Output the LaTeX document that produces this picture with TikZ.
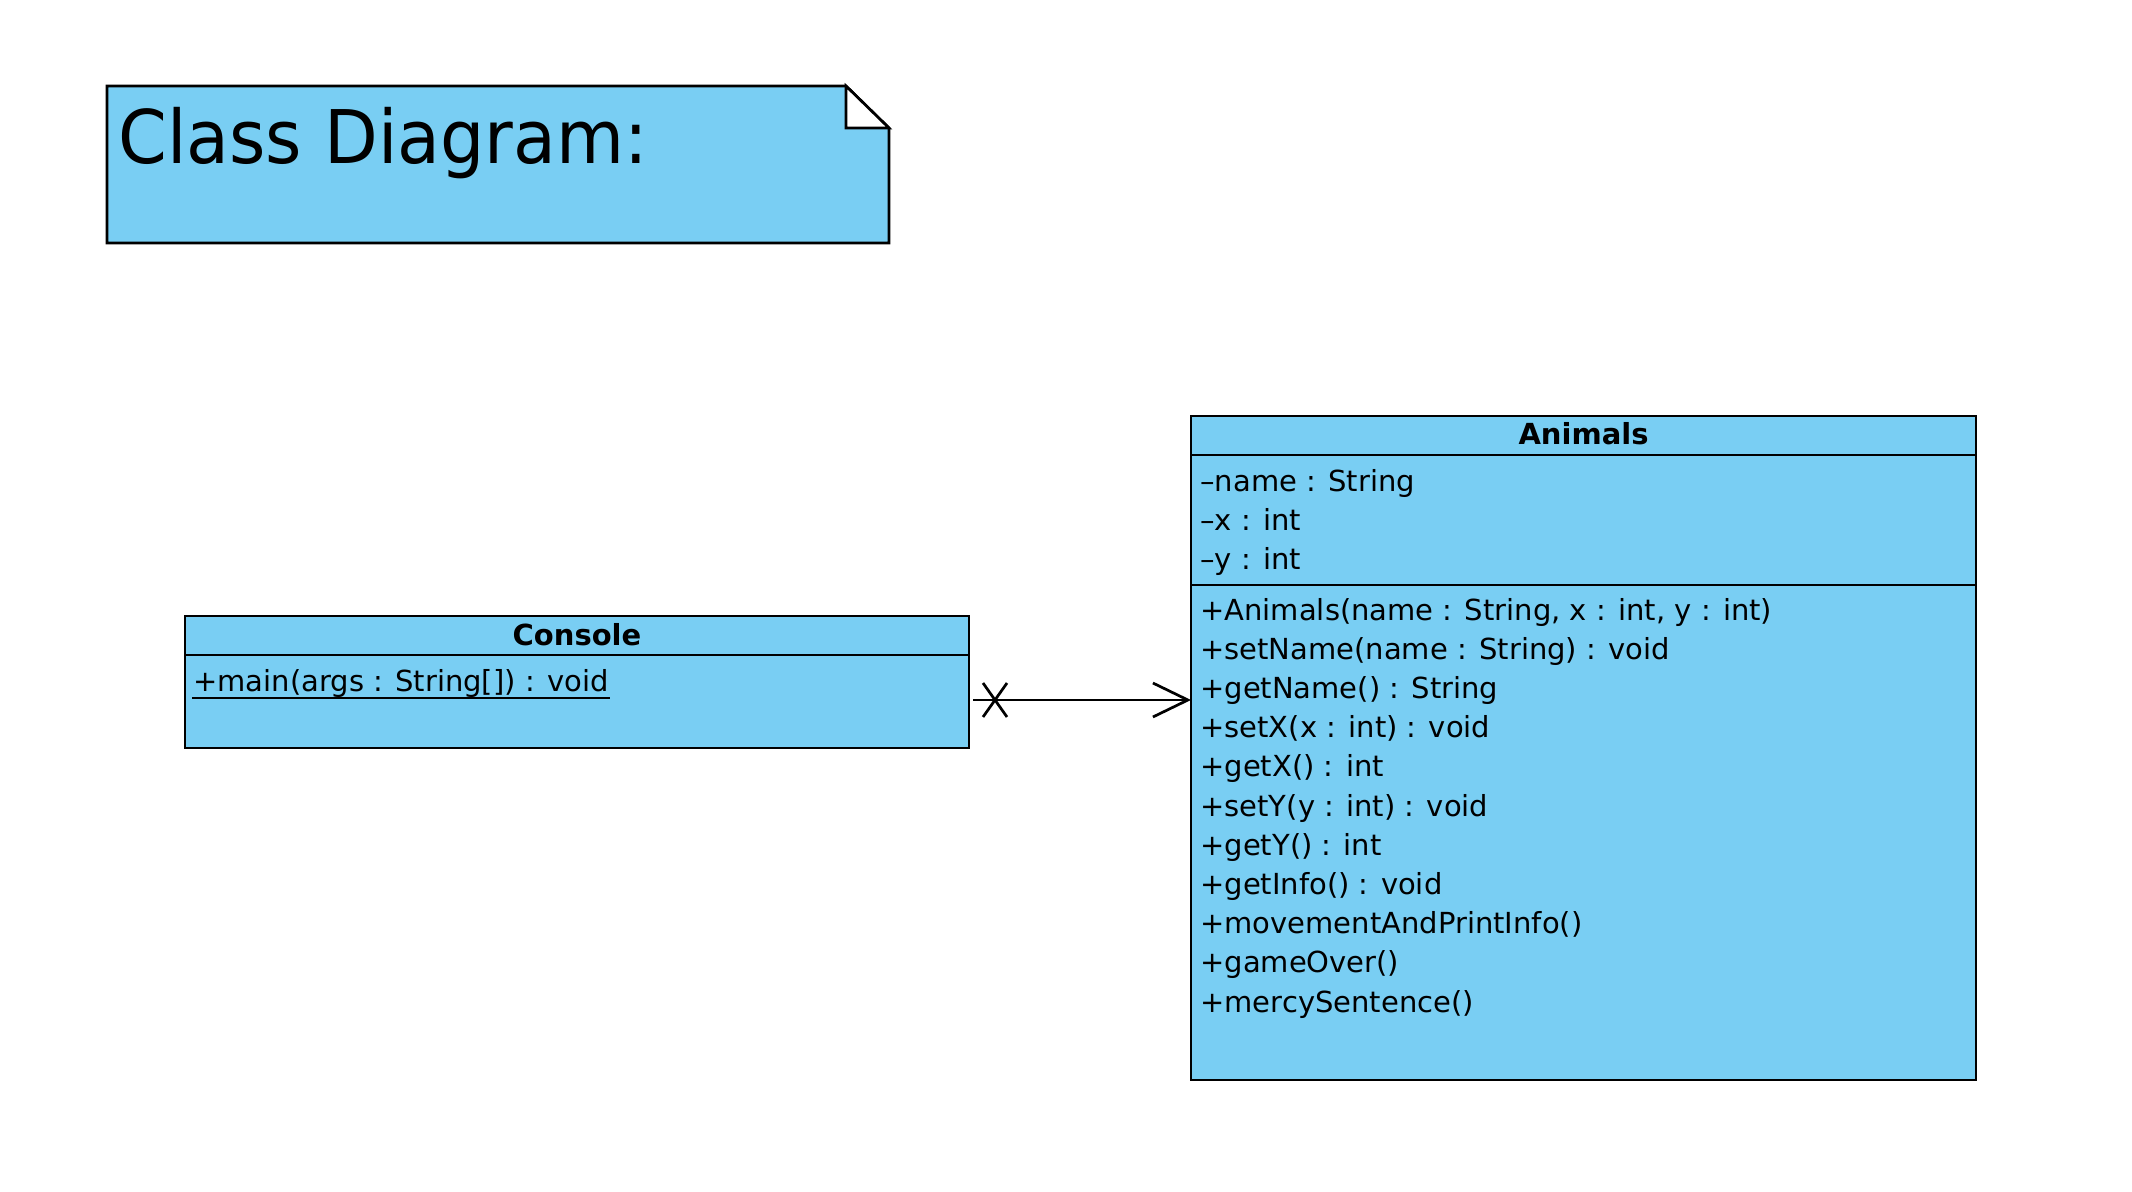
\documentclass[tikz,border=0pt]{standalone}
\usepackage{fontspec}
\setmainfont{DejaVu Sans}
\newfontfamily\titlefont{DejaVu Sans}[FakeStretch=0.944]
\usetikzlibrary{arrows.meta,calc}
\definecolor{umlblue}{HTML}{79CEF3}
\begin{document}
\begin{tikzpicture}[x=0.5pt,y=-0.5pt, line width=1.35pt,
  classbox/.style={draw=black, fill=umlblue, inner sep=0pt, outer sep=0pt},
  member/.style={anchor=base west, inner sep=0pt, font=\fontsize{14.5pt}{17pt}\selectfont},
  cname/.style={anchor=base, inner sep=0pt, font=\fontsize{14.5pt}{17pt}\selectfont\bfseries},
  assoc/.style={-{Straight Barb[length=17.5pt,width=17pt]}}]
\useasboundingbox (0,0) rectangle (2132,1192);

% note with folded corner
\draw[fill=umlblue] (107,86) -- (846,86) -- (889,128) -- (889,243) -- (107,243) -- cycle;
\draw[fill=white] (846,86) -- (889,128) -- (846,128) -- cycle;
\node[anchor=base west, inner sep=0pt, font=\titlefont\fontsize{37pt}{44pt}\selectfont] (title) at (117,164) {Class Diagram:};

% class Console
\node[classbox, minimum width=392pt, minimum height=66pt] (console) at (577,682) {};
\coordinate (c1) at (0,655);
\draw (console.west |- c1) -- (console.east |- c1);
\node[cname] (consoleName) at (577,645) {Console};
\node[member] (mainop) at (192,691) {+main(args : String[]) : void};
\draw[line width=1.1pt] ($(mainop.base west)+(0,7)$) -- ($(mainop.base east)+(0,7)$);

% class Animals
\node[classbox, minimum width=392.5pt, minimum height=332pt] (animals) at (1583.5,748) {};
\coordinate (a1) at (0,455);
\coordinate (a2) at (0,585);
\draw (animals.west |- a1) -- (animals.east |- a1);
\draw (animals.west |- a2) -- (animals.east |- a2);
\node[cname] (animalsName) at (1583.5,445) {Animals};
\node[member] (at1) at (1199,492) {\textendash name : String};
\node[member] (at2) at (1199,530.5) {\textendash x : int};
\node[member] (at3) at (1199,569) {\textendash y : int};
\node[member] (op1) at (1199,620) {+Animals(name : String, x : int, y : int)};
\node[member] (op2) at (1199,659.2) {+setName(name : String) : void};
\node[member] (op3) at (1199,698.4) {+getName() : String};
\node[member] (op4) at (1199,737.6) {+setX(x : int) : void};
\node[member] (op5) at (1199,776.8) {+getX() : int};
\node[member] (op6) at (1199,816) {+setY(y : int) : void};
\node[member] (op7) at (1199,855.2) {+getY() : int};
\node[member] (op8) at (1199,894.4) {+getInfo() : void};
\node[member] (op9) at (1199,933.6) {+movementAndPrintInfo()};
\node[member] (op10) at (1199,972.8) {+gameOver()};
\node[member] (op11) at (1199,1012) {+mercySentence()};

% navigable association with non-navigable end
\coordinate (ay) at (0,700);
\coordinate (start) at ($(console.east |- ay)+(4,0)$);
\coordinate (xm) at ($(console.east |- ay)+(26,0)$);
\draw[assoc] (start) -- (animals.west |- ay);
\draw ($(xm)+(-12,-17)$) -- ($(xm)+(12,17)$);
\draw ($(xm)+(-12,17)$) -- ($(xm)+(12,-17)$);
\end{tikzpicture}
\end{document}
